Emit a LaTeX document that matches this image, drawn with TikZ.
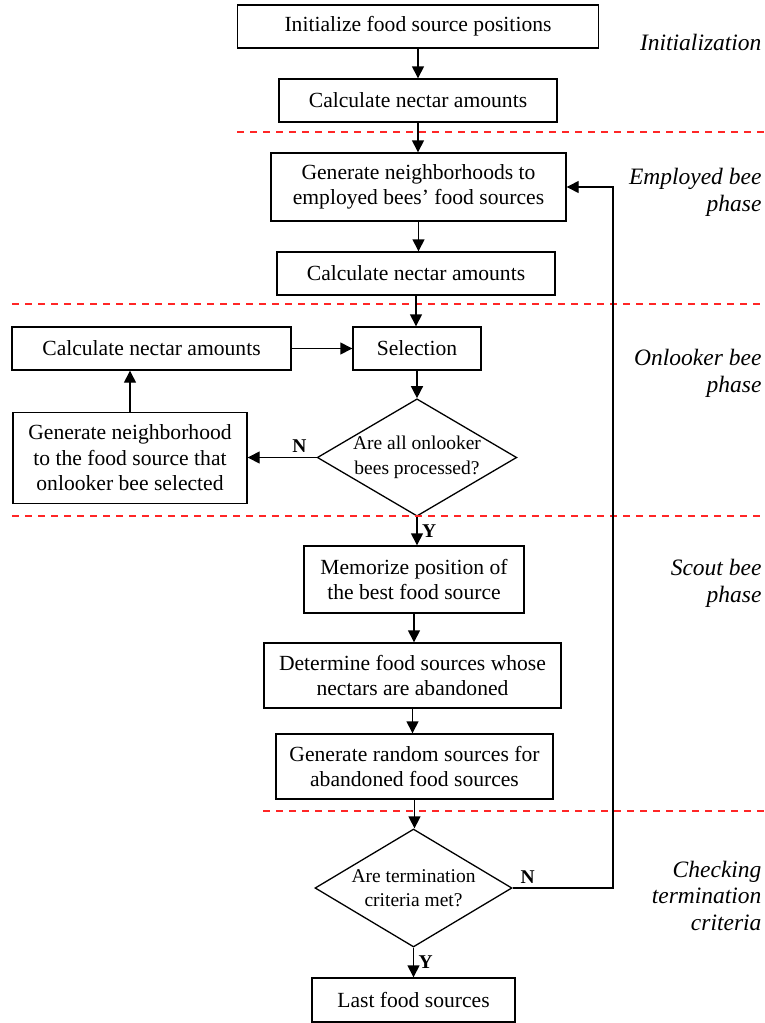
\documentclass[tikz,border=0pt]{standalone}
\usepackage{fontspec}
\setmainfont{Liberation Serif}
\usetikzlibrary{shapes.geometric,arrows.meta}
\begin{document}
\begin{tikzpicture}[x=1pt,y=-1pt,
  font=\fontsize{21.6}{25.5}\selectfont,
  box/.style={draw,line width=1.4pt,inner sep=0pt,align=center},
  dec/.style={draw,shape=diamond,line width=1.3pt,inner sep=0pt,align=center,aspect=1.7,font=\fontsize{19.5}{24.5}\selectfont},
  arr/.style={line width=1.4pt,-{Triangle[length=12pt,width=12pt]}},
  sep/.style={red!85,line width=1.2pt,dash pattern=on 7pt off 6pt},
  phase/.style={anchor=base east,font=\fontsize{23.5}{27}\selectfont\itshape},
  yn/.style={font=\fontsize{19.5}{22}\selectfont\bfseries}]
\useasboundingbox (0,0) rectangle (764,1023);
% boxes
\node[box,minimum width=361pt,minimum height=43pt] (init) at (418,26.5) {Initialize food source positions};
\node[box,minimum width=278pt,minimum height=43pt] (calc1) at (418,100.5) {Calculate nectar amounts};
\node[box,minimum width=295pt,minimum height=68pt] (gen) at (418.5,187) {Generate neighborhoods to\\employed bees' food sources};
\node[box,minimum width=278pt,minimum height=43pt] (calc2) at (416,273.5) {Calculate nectar amounts};
\node[box,minimum width=279pt,minimum height=43pt] (calc3) at (151.5,348.5) {Calculate nectar amounts};
\node[box,minimum width=128pt,minimum height=43pt] (sel) at (417,348.5) {Selection};
\node[dec,minimum width=196pt,minimum height=117pt] (q1) at (417,457.5) {Are all onlooker\\bees processed?};
\node[box,minimum width=234pt,minimum height=91pt] (genn) at (130,458) {Generate neighborhood\\to the food source that\\onlooker bee selected};
\node[box,minimum width=220pt,minimum height=67pt] (mem) at (414,579.5) {Memorize position of\\the best food source};
\node[box,minimum width=297pt,minimum height=65pt] (det) at (412.5,675.5) {Determine food sources whose\\nectars are abandoned};
\node[box,minimum width=277pt,minimum height=65pt] (rnd) at (414.5,766.5) {Generate random sources for\\abandoned food sources};
\node[dec,minimum width=197pt,minimum height=118pt] (q2) at (413.5,888) {Are termination\\criteria met?};
\node[box,minimum width=203pt,minimum height=44pt] (last) at (413.5,1000) {Last food sources};
% separators
\draw[sep] (237,132) -- (764,132);
\draw[sep] (12,304) -- (764,304);
\draw[sep] (12,516) -- (764,516);
\draw[sep] (263,811) -- (764,811);
% arrows
\draw[arr] (init.south) -- (init.south |- calc1.north);
\draw[arr] (calc1.south) -- (calc1.south |- gen.north);
\draw[arr] (gen.south) -- (gen.south |- calc2.north);
\draw[arr] (calc2.south) -- (calc2.south |- sel.north);
\draw[arr] (sel.south) -- (sel.south |- q1.north);
\draw[arr] (calc3.east) -- (sel.west);
\draw[arr] (q1.west) -- (q1.west -| genn.east) node[yn,pos=0.25,above=1pt] {N};
\draw[arr] (genn.north) -- (genn.north |- calc3.south);
\draw[arr] (q1.south) -- (q1.south |- mem.north) node[yn,midway,right=1pt] {Y};
\draw[arr] (mem.south) -- (mem.south |- det.north);
\draw[arr] (det.south) -- (det.south |- rnd.north);
\draw[arr] (rnd.south) -- (rnd.south |- q2.north);
\draw[arr] (q2.south) -- (q2.south |- last.north) node[yn,midway,right=1pt] {Y};
\coordinate (ret) at (613,888);
\draw[arr] (q2.east) -- (ret) node[yn,pos=0.15,above=0pt] {N} -- (ret |- gen.east) -- (gen.east);
% phase labels
\node[phase] (p1) at (765,50) {Initialization};
\node[phase] (p2a) at (765,184) {Employed bee};
\node[phase] (p2b) at (765,211) {phase};
\node[phase] (p3a) at (765,365) {Onlooker bee};
\node[phase] (p3b) at (765,392) {phase};
\node[phase] (p4a) at (765,575) {Scout bee};
\node[phase] (p4b) at (765,602) {phase};
\node[phase] (p5a) at (765,877) {Checking};
\node[phase] (p5b) at (765,903) {termination};
\node[phase] (p5c) at (765,930) {criteria};
\end{tikzpicture}
\end{document}
